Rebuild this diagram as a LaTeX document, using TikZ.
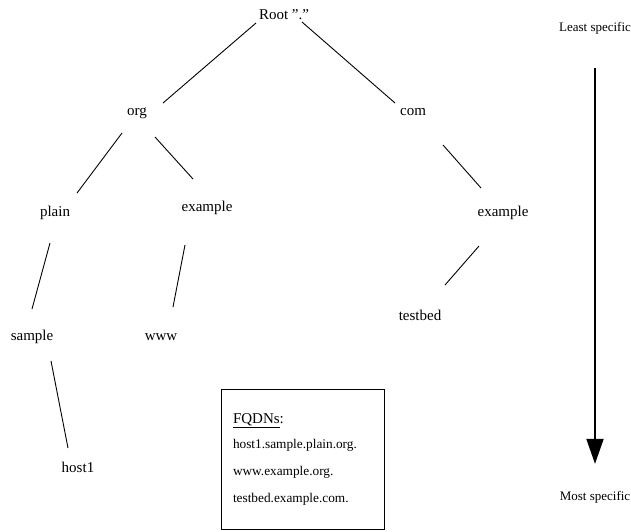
\documentclass[tikz,border=0pt]{standalone}
\usepackage{fontspec}
\setmainfont{Liberation Serif}
\usetikzlibrary{arrows.meta}
\begin{document}
\begin{tikzpicture}[x=1pt,y=-1pt,
  lbl/.style={inner sep=0pt,font=\fontsize{15}{18}\selectfont},
  side/.style={inner sep=0pt,font=\fontsize{13}{16}\selectfont},
  edge/.style={draw=black,line width=0.9pt}]
\useasboundingbox (0,0) rectangle (631,531);
\node[lbl] (root) at (284,15) {Root ”.”};
\node[lbl] (org) at (137,113) {org};
\node[lbl] (com) at (413,112) {com};
\node[lbl] (plain) at (55,213) {plain};
\node[lbl] (ex1) at (207,208) {example};
\node[lbl] (ex2) at (503,213) {example};
\node[lbl] (sample) at (32,337) {sample};
\node[lbl] (www) at (161,337) {www};
\node[lbl] (testbed) at (420,315) {testbed};
\node[lbl] (host1) at (78,467) {host1};
\node[side] (least) at (595,28) {Least specific};
\node[side] (most) at (595,497) {Most specific};
\node[draw,line width=1pt,anchor=north west,minimum width=163pt,minimum height=140pt,
  text width=140pt,align=left,inner xsep=11pt,inner ysep=6pt,
  font=\fontsize{13.3}{27}\selectfont] (fq) at (221,389)
  {{\fontsize{15}{18}\selectfont\underline{FQDNs}:}\\[-2pt]
   host1.sample.plain.org.\\
   www.example.org.\\
   testbed.example.com.};
% connectors
\draw[edge] ([xshift=-28pt,yshift=-8pt]root.center) -- ([xshift=26pt,yshift=10pt]org.center);
\draw[edge] ([xshift=18pt,yshift=-7pt]root.center) -- ([xshift=-18pt,yshift=9pt]com.center);
\draw[edge] ([xshift=-15pt,yshift=-20pt]org.center) -- ([xshift=22pt,yshift=20pt]plain.center);
\draw[edge] ([xshift=18pt,yshift=-24pt]org.center) -- ([xshift=-14pt,yshift=29pt]ex1.center);
\draw[edge] ([xshift=-5pt,yshift=-30pt]plain.center) -- ([xshift=0pt,yshift=28pt]sample.center);
\draw[edge] ([xshift=-22pt,yshift=-37pt]ex1.center) -- ([xshift=12pt,yshift=30pt]www.center);
\draw[edge] ([xshift=19pt,yshift=-24pt]sample.center) -- ([xshift=-10pt,yshift=19pt]host1.center);
\draw[edge] ([xshift=30pt,yshift=-33pt]com.center) -- ([xshift=-22pt,yshift=25pt]ex2.center);
\draw[edge] ([xshift=-24pt,yshift=-33pt]ex2.center) -- ([xshift=25pt,yshift=30pt]testbed.center);
\draw[line width=2pt,-{Triangle[width=17pt,length=25pt]},shorten <=34pt,shorten >=27pt] (least) -- (most);
\end{tikzpicture}
\end{document}
